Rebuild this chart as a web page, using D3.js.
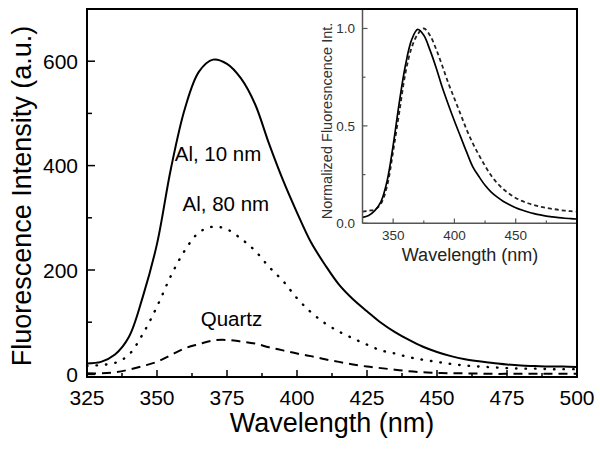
<!DOCTYPE html>
<html><head><meta charset="utf-8">
<script src="https://cdn.jsdelivr.net/npm/d3@7"></script>
<style>body{margin:0;background:#fff;} text{font-family:Arial,"Liberation Sans",sans-serif;}</style>
</head><body><svg id="c" width="600" height="451"></svg>
<script>
const wavelengths = [325,330,335,340,345,350,355,360,365,370,375,380,385,390,395,400,405,410,415,420,425,430,435,440,445,450,455,460,465,470,475,480,485,490,495,500];
const al10 = [21,24,38,72,150,250,395,510,580,603,595,567,518,442,372,310,253,210,172,144,121,99,81,66,53,43,35,29,25,22,19,17,16,15,15,14];
const al80 = [16,18,22,38,78,130,189,238,272,283,278,260,237,206,179,146,119,98,82,69,57,46,40,33,28,24,20,17,15,13.5,12,11,11,10,10,10];
const quartz = [2,2,4,9,16,24,37,50,58,65,66,63,59,52,46,40,35,29,24,19,15,12,9,6,4,3,2,2,1.5,1,1,1,1,1,1,1];
const insetSolid = [0.03,0.04,0.065,0.11,0.215,0.40,0.62,0.81,0.94,0.995,0.965,0.89,0.80,0.70,0.61,0.525,0.445,0.365,0.29,0.24,0.195,0.16,0.134,0.112,0.095,0.08,0.068,0.058,0.05,0.043,0.037,0.033,0.029,0.026,0.024,0.022];
const insetDashed = [0.06,0.065,0.07,0.10,0.19,0.37,0.57,0.77,0.90,0.97,1.0,0.965,0.895,0.81,0.72,0.64,0.56,0.48,0.41,0.35,0.295,0.245,0.205,0.175,0.15,0.13,0.115,0.103,0.093,0.085,0.079,0.074,0.069,0.065,0.062,0.06];
const xTicksMain = [325,350,375,400,425,450,475,500];
const yTicksMain = [0,200,400,600];
const xTicksInset = [350,400,450];
const yTicksInset = [0.0,0.5,1.0];
const annotations = [{text:"Al, 10 nm", x:371.8, y:409},{text:"Al, 80 nm", x:374.6, y:313},{text:"Quartz", x:376.6, y:93}];

const svg = d3.select("#c");
const x = d3.scaleLinear().domain([325,500]).range([87,577]);
const y = d3.scaleLinear().domain([-5,700]).range([377,9]);

// main series
const line = d3.line().x((d,i)=>x(wavelengths[i])).y(d=>y(d)).curve(d3.curveCatmullRom);
svg.append("path").attr("d",line(al10)).attr("fill","none").attr("stroke","#000").attr("stroke-width",2);
svg.append("path").attr("d",line(al80)).attr("fill","none").attr("stroke","#000").attr("stroke-width",2.4)
  .attr("stroke-dasharray","0.5,9").attr("stroke-linecap","round");
svg.append("path").attr("d",line(quartz)).attr("fill","none").attr("stroke","#000").attr("stroke-width",2)
  .attr("stroke-dasharray","9,6");

// main axes ticks
const minorX = d3.range(337.5,500,25);
const gx = svg.append("g");
xTicksMain.forEach(t=>gx.append("line").attr("x1",x(t)).attr("x2",x(t)).attr("y1",377).attr("y2",370).attr("stroke","#000").attr("stroke-width",1.5));
minorX.forEach(t=>gx.append("line").attr("x1",x(t)).attr("x2",x(t)).attr("y1",377).attr("y2",373).attr("stroke","#000").attr("stroke-width",1.5));
xTicksMain.forEach(t=>gx.append("text").attr("x",x(t)).attr("y",405).attr("text-anchor","middle").attr("font-size",21).text(t));
const minorY = [100,300,500];
yTicksMain.forEach(t=>gx.append("line").attr("x1",87).attr("x2",95).attr("y1",y(t)).attr("y2",y(t)).attr("stroke","#000").attr("stroke-width",1.5));
minorY.forEach(t=>gx.append("line").attr("x1",87).attr("x2",92).attr("y1",y(t)).attr("y2",y(t)).attr("stroke","#000").attr("stroke-width",1.5));
yTicksMain.forEach(t=>gx.append("text").attr("x",78).attr("y",y(t)).attr("dy","0.36em").attr("text-anchor","end").attr("font-size",21).text(t));

svg.append("text").attr("x",332).attr("y",432).attr("text-anchor","middle").attr("font-size",27).text("Wavelength (nm)");
svg.append("text").attr("transform","translate(31,196) rotate(-90)").attr("text-anchor","middle").attr("font-size",27).text("Fluorescence Intensity (a.u.)");

annotations.forEach(a=>svg.append("text").attr("x",x(a.x)).attr("y",y(a.y)).attr("text-anchor","middle").attr("font-size",20.5).text(a.text));

// inset
const xi = d3.scaleLinear().domain([325,500]).range([362.5,577]);
const yi = d3.scaleLinear().domain([0,1.1]).range([223.3,9]);
svg.append("rect").attr("x",362.5).attr("y",9).attr("width",214.5).attr("height",214.3).attr("fill","#fff");
svg.append("clipPath").attr("id","ic").append("rect").attr("x",362.5).attr("y",9).attr("width",214.5).attr("height",214.3);
const li = d3.line().x((d,i)=>xi(wavelengths[i])).y(d=>yi(d)).curve(d3.curveCatmullRom);
const gi = svg.append("g").attr("clip-path","url(#ic)");
gi.append("path").attr("d",li(insetDashed)).attr("fill","none").attr("stroke","#222").attr("stroke-width",1.8).attr("stroke-dasharray","4,3");
gi.append("path").attr("d",li(insetSolid)).attr("fill","none").attr("stroke","#000").attr("stroke-width",1.7);
svg.append("line").attr("x1",362.5).attr("x2",362.5).attr("y1",9).attr("y2",223.3).attr("stroke","#555").attr("stroke-width",1.5);
svg.append("line").attr("x1",362.5).attr("x2",577).attr("y1",223.3).attr("y2",223.3).attr("stroke","#555").attr("stroke-width",1.5);
const minorXi = [375,425,475];
xTicksInset.forEach(t=>svg.append("line").attr("x1",xi(t)).attr("x2",xi(t)).attr("y1",223.3).attr("y2",218.5).attr("stroke","#555").attr("stroke-width",1.2));
minorXi.forEach(t=>svg.append("line").attr("x1",xi(t)).attr("x2",xi(t)).attr("y1",223.3).attr("y2",220.5).attr("stroke","#555").attr("stroke-width",1.2));
xTicksInset.forEach(t=>svg.append("text").attr("x",xi(t)).attr("y",240).attr("text-anchor","middle").attr("font-size",13.5).attr("fill","#333").text(t));
const minorYi = [0.25,0.75];
yTicksInset.forEach(t=>svg.append("line").attr("x1",362.5).attr("x2",367.5).attr("y1",yi(t)).attr("y2",yi(t)).attr("stroke","#555").attr("stroke-width",1.2));
minorYi.forEach(t=>svg.append("line").attr("x1",362.5).attr("x2",365.5).attr("y1",yi(t)).attr("y2",yi(t)).attr("stroke","#555").attr("stroke-width",1.2));
yTicksInset.forEach(t=>svg.append("text").attr("x",355).attr("y",yi(t)).attr("dy","0.36em").attr("text-anchor","end").attr("font-size",13.5).attr("fill","#333").text(d3.format(".1f")(t)));
svg.append("text").attr("x",470).attr("y",261).attr("text-anchor","middle").attr("font-size",18).attr("fill","#222").text("Wavelength (nm)");
svg.append("text").attr("transform","translate(332,121) rotate(-90)").attr("text-anchor","middle").attr("font-size",14.5).attr("fill","#333").text("Normalized Fluoresncence Int.");

// main frame
svg.append("rect").attr("x",87).attr("y",9).attr("width",490).attr("height",368).attr("fill","none").attr("stroke","#000").attr("stroke-width",2);
</script></body></html>
